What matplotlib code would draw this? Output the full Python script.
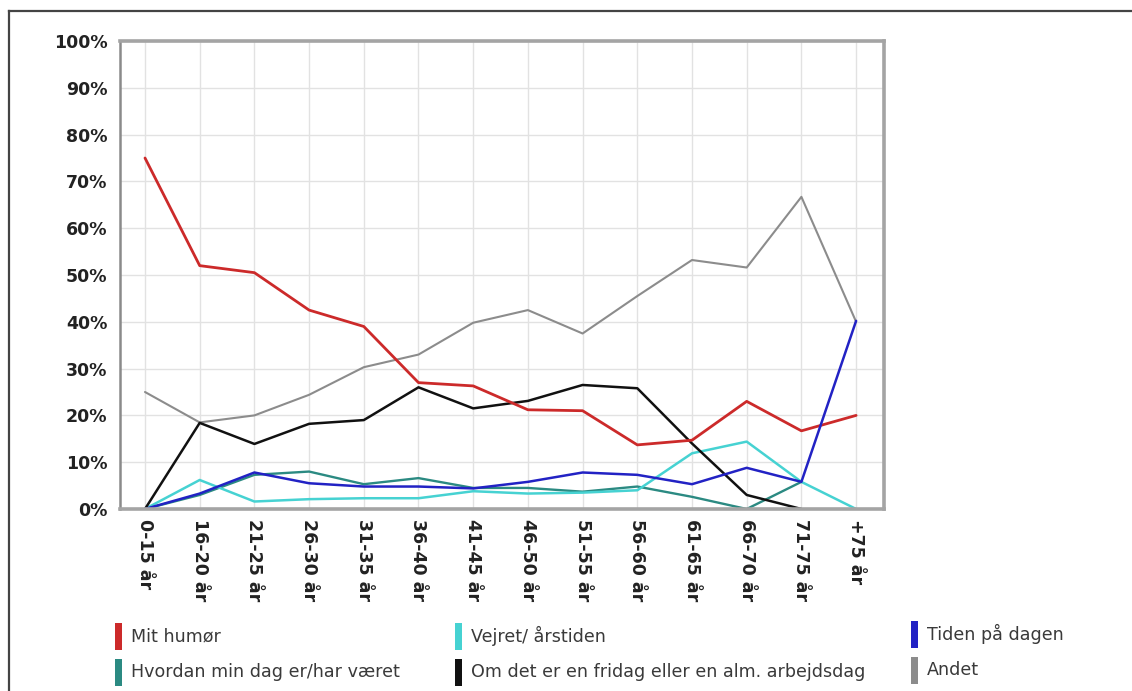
import numpy as np
import matplotlib
matplotlib.use("Agg")
import matplotlib.pyplot as plt
from matplotlib.patches import Rectangle
from matplotlib.lines import Line2D

# Age groups and the share (%) giving each answer
categories = ["0-15 år", "16-20 år", "21-25 år", "26-30 år", "31-35 år", "36-40 år",
              "41-45 år", "46-50 år", "51-55 år", "56-60 år", "61-65 år", "66-70 år",
              "71-75 år", "+75 år"]

mit_humoer = [75, 52, 50.5, 42.5, 39, 27, 26.3, 21.2, 21, 13.7, 14.7, 23, 16.7, 20]
vejret = [0, 6.2, 1.6, 2.1, 2.3, 2.3, 3.8, 3.3, 3.5, 4, 11.9, 14.4, 5.8, 0]
tiden = [0, 3.3, 7.8, 5.5, 4.8, 4.8, 4.4, 5.8, 7.8, 7.3, 5.3, 8.8, 5.8, 40.2]
hvordan = [0, 3, 7.3, 8, 5.3, 6.6, 4.5, 4.5, 3.7, 4.8, 2.6, 0, 5.8, np.nan]
fridag = [0, 18.4, 13.9, 18.2, 19, 26, 21.5, 23.1, 26.5, 25.8, 14, 3, 0, np.nan]
andet = [25, 18.5, 20, 24.4, 30.3, 33, 39.8, 42.5, 37.5, 45.5, 53.2, 51.6, 66.7, 40]

series_labels = ["Mit humør", "Hvordan min dag er/har været", "Vejret/ årstiden",
                 "Om det er en fridag eller en alm. arbejdsdag", "Tiden på dagen", "Andet"]
series_colors = ["#CC2A2A", "#2B8A82", "#46D2D2", "#111111", "#2222C4", "#8C8C8C"]

y_ticks = list(range(0, 101, 10))
y_tick_labels = [f"{v}%" for v in y_ticks]

W, H = 1132, 691
fig = plt.figure(figsize=(W / 100, H / 100), dpi=100)
fig.patch.set_facecolor("white")

# outer frame (top and left edges)
fig.add_artist(Line2D([9 / W, 1.0], [1 - 11 / H, 1 - 11 / H], transform=fig.transFigure,
                      color="#444444", lw=1.6))
fig.add_artist(Line2D([9 / W, 9 / W], [1 - 11 / H, 0.0], transform=fig.transFigure,
                      color="#444444", lw=1.6))

ax = fig.add_axes([120 / W, 1 - 509 / H, (884 - 120) / W, (509 - 41) / H])
x = np.arange(len(categories))

data = [mit_humoer, hvordan, vejret, fridag, tiden, andet]
widths = [2.0, 1.7, 1.8, 1.8, 1.8, 1.5]
zorders = [6, 3, 4, 5, 7, 2]
for vals, col, lw, z in zip(data, series_colors, widths, zorders):
    ax.plot(x, vals, color=col, lw=lw, zorder=z, solid_joinstyle="round",
            solid_capstyle="round")

ax.set_xlim(-0.457, 13.51)
ax.set_ylim(0, 100)
ax.set_xticks(x)
ax.set_xticklabels(categories, rotation=-90, fontsize=12.5, fontweight="bold",
                   color="#222222", va="top", ha="center")
ax.set_yticks(y_ticks)
ax.set_yticklabels(y_tick_labels, fontsize=12.5, fontweight="bold", color="#222222")
ax.tick_params(axis="x", length=0, pad=7)
ax.tick_params(axis="y", length=0, pad=9)

ax.grid(True, color="#E2E2E2", lw=1.0)
ax.set_axisbelow(True)
for side in ["top", "bottom", "right"]:
    ax.spines[side].set_color("#A4A4A4")
    ax.spines[side].set_linewidth(2.6)
ax.spines["left"].set_color("#8A8A8A")
ax.spines["left"].set_linewidth(1.8)
for s in ax.spines.values():
    s.set_zorder(8)

# legend: three columns of coloured bars with labels
col_x = [115, 455, 911]
row_y = [636, 672]
for i, (lab, col) in enumerate(zip(series_labels, series_colors)):
    cx = col_x[i // 2]
    cy = row_y[i % 2] - (2 if i // 2 == 2 else 0)
    fig.add_artist(Rectangle((cx / W, 1 - (cy + 13.5) / H), 7 / W, 27 / H,
                             transform=fig.transFigure, facecolor=col, edgecolor="none"))
    fig.text((cx + 16) / W, 1 - cy / H, lab, fontsize=12.6, color="#3A3A3A",
             va="center", ha="left")

fig.savefig("out.png", dpi=100, facecolor="white")
